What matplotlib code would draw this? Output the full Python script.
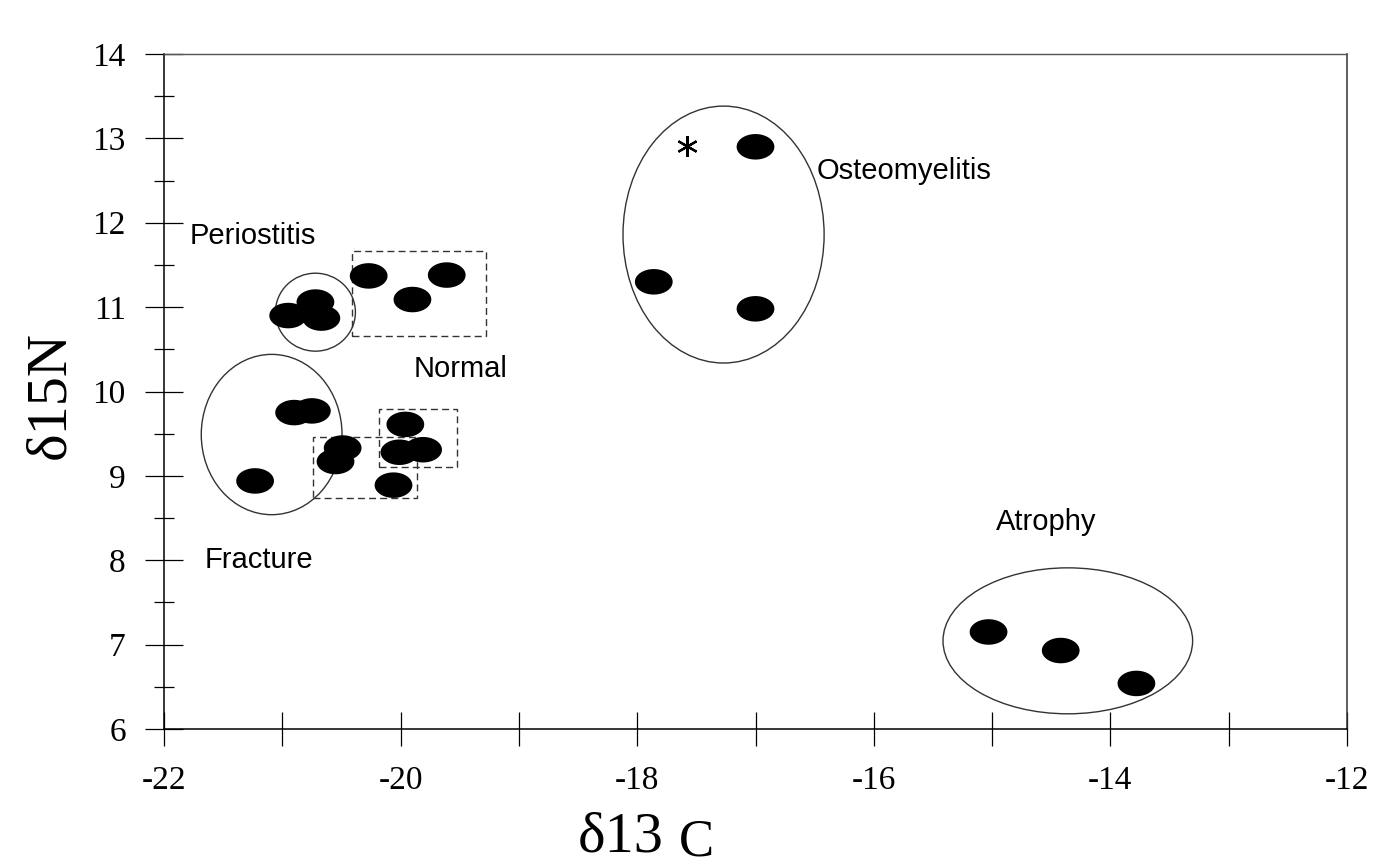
import numpy as np
import matplotlib
matplotlib.use("Agg")
import matplotlib.pyplot as plt
from matplotlib.patches import Ellipse, Rectangle
from matplotlib.path import Path
from matplotlib.ticker import MultipleLocator

# ---- data ----
periostitis_x = [-20.95, -20.72, -20.67]
periostitis_y = [10.90, 11.06, 10.87]
normal_x = [-20.27, -19.90, -19.61, -20.49, -20.55, -19.96, -20.01, -19.81, -20.06]
normal_y = [11.37, 11.09, 11.38, 9.33, 9.17, 9.61, 9.28, 9.31, 8.89]
fracture_x = [-20.90, -20.75, -21.23]
fracture_y = [9.75, 9.77, 8.94]
osteo_x = [-17.00, -17.86, -17.00]
osteo_y = [12.90, 11.30, 10.98]
atrophy_x = [-15.03, -14.42, -13.78]
atrophy_y = [7.15, 6.93, 6.54]
star_x = [-17.58]
star_y = [12.91]

group_labels = ["Periostitis", "Normal", "Fracture", "Osteomyelitis", "Atrophy"]
label_x = [-21.25, -19.49, -21.20, -15.74, -14.54]
label_y = [11.84, 10.27, 8.00, 12.61, 8.45]

# group outlines: (center x, center y, width, height)
ellipse_cx = [-20.72, -21.09, -17.27, -14.36]
ellipse_cy = [10.94, 9.49, 11.86, 7.045]
ellipse_w = [0.676, 1.19, 1.70, 2.11]
ellipse_h = [0.924, 1.90, 3.045, 1.73]
# dashed boxes around 'Normal' points: (x0, x1, y0, y1)
box_x0 = [-20.41, -20.74, -20.18]
box_x1 = [-19.28, -19.86, -19.52]
box_y0 = [10.66, 8.74, 9.10]
box_y1 = [11.67, 9.46, 9.79]

xticks = [-22, -20, -18, -16, -14, -12]
yticks = [6, 7, 8, 9, 10, 11, 12, 13, 14]

# ---- figure ----
fig = plt.figure(figsize=(13.76, 8.67), dpi=100)
ax = fig.add_axes([164 / 1376, 1 - 729 / 867, (1347 - 164) / 1376, (729 - 54) / 867])

t = np.linspace(0, 2 * np.pi, 60)
ell_marker = Path(np.column_stack([1.48 * np.cos(t), np.sin(t)]), closed=True)

all_x = periostitis_x + normal_x + fracture_x + osteo_x + atrophy_x
all_y = periostitis_y + normal_y + fracture_y + osteo_y + atrophy_y
ax.scatter(all_x, all_y, marker=ell_marker, s=740, color="black", edgecolors="none", zorder=3)
ax.plot(star_x, star_y, linestyle="none", marker=(6, 2, 0), markersize=15,
        markeredgewidth=1.6, color="black", zorder=3)

for cx, cy, w, h in zip(ellipse_cx, ellipse_cy, ellipse_w, ellipse_h):
    ax.add_patch(Ellipse((cx, cy), w, h, fill=False, edgecolor="#333333", linewidth=1.0, zorder=2))
for x0, x1, y0, y1 in zip(box_x0, box_x1, box_y0, box_y1):
    ax.add_patch(Rectangle((x0, y0), x1 - x0, y1 - y0, fill=False, edgecolor="#333333",
                           linewidth=1.0, linestyle=(0, (5, 3)), zorder=2))

for lab, lx, ly in zip(group_labels, label_x, label_y):
    ax.text(lx, ly, lab, ha="center", va="center", fontsize=21,
            family="Liberation Sans", color="black")

ax.set_xlim(-22, -12)
ax.set_ylim(6, 14)
ax.set_xticks(xticks)
ax.set_yticks(yticks)
ax.xaxis.set_minor_locator(MultipleLocator(1))
ax.yaxis.set_minor_locator(MultipleLocator(0.5))
ax.set_xticklabels([str(v) for v in xticks], family="Liberation Serif", fontsize=24)
ax.set_yticklabels([str(v) for v in yticks], family="Liberation Serif", fontsize=24)
ax.tick_params(axis="x", which="major", direction="inout", length=24, width=0.9, pad=14)
ax.tick_params(axis="x", which="minor", direction="inout", length=24, width=0.9)
ax.tick_params(axis="y", which="major", direction="inout", length=27, width=0.9, pad=14)
ax.tick_params(axis="y", which="minor", direction="inout", length=15, width=0.9)

for side in ["left", "bottom", "right"]:
    ax.spines[side].set_linewidth(1.1)
    ax.spines[side].set_color("black")
ax.spines["top"].set_linewidth(1.0)
ax.spines["top"].set_color("#555555")
ax.spines["right"].set_color("#333333")

# axis labels
fig.text(50 / 1376, 1 - 395 / 867, "δ15N", rotation=90, ha="center", va="center",
         fontsize=42, family="Liberation Serif")
fig.text(621 / 1376, 1 - 851 / 867, "δ13", ha="center", va="baseline",
         fontsize=42, family="Liberation Serif")
fig.text(679 / 1376, 1 - 866 / 867, "C", ha="left", va="bottom",
         fontsize=38, family="Liberation Serif")

fig.savefig("out.png", dpi=100)
